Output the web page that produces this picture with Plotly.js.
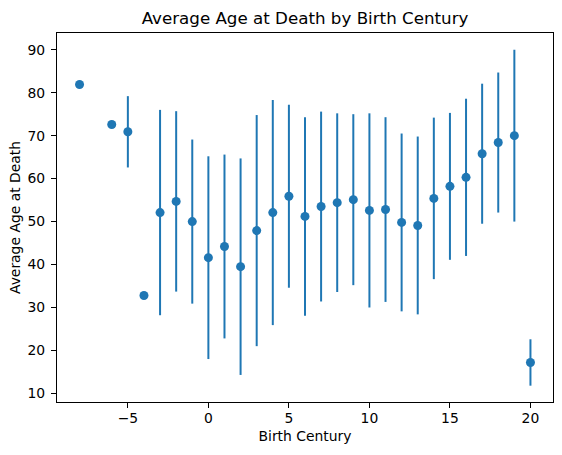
<!DOCTYPE html>
<html>
<head>
<meta charset="utf-8">
<script src="https://cdn.plot.ly/plotly-3.0.1.min.js"></script>
<style>html,body{margin:0;padding:0;background:#fff;}#chart{width:562px;height:455px;}</style>
</head>
<body>
<div id="chart"></div>
<script>
const centuries = [-8, -6, -5, -4, -3, -2, -1, 0, 1, 2, 3, 4, 5, 6, 7, 8, 9, 10, 11, 12, 13, 14, 15, 16, 17, 18, 19, 20];
const avgAge = [81.9, 72.6, 70.9, 32.8, 52.1, 54.7, 50.0, 41.6, 44.2, 39.5, 47.9, 52.1, 55.9, 51.2, 53.5, 54.4, 55.1, 52.6, 52.8, 49.8, 49.1, 55.4, 58.2, 60.3, 65.8, 68.4, 70.0, 17.2];
const stdAge = [0, 0, 8.3, 0, 23.9, 21.0, 19.1, 23.6, 21.4, 25.2, 26.9, 26.2, 21.3, 23.1, 22.1, 20.8, 19.9, 22.6, 21.5, 20.7, 20.7, 18.8, 17.1, 18.3, 16.3, 16.3, 20.0, 5.4];

const font = 'DejaVu Sans, sans-serif';
const trace = {
  x: centuries,
  y: avgAge,
  type: 'scatter',
  mode: 'markers',
  marker: {color: '#1f77b4', size: 9},
  error_y: {type: 'data', array: stdAge, visible: true, color: '#1f77b4', thickness: 2, width: 0},
  hoverinfo: 'x+y'
};

const layout = {
  width: 562, height: 455,
  margin: {l: 57.3, r: 9, t: 32.5, b: 52.7},
  paper_bgcolor: '#fff', plot_bgcolor: '#fff',
  font: {family: font, size: 13.9, color: '#000'},
  showlegend: false,
  title: {text: 'Average Age at Death by Birth Century', font: {family: font, size: 16.7, color: '#000'},
          x: 0.5, xref: 'paper', xanchor: 'center', y: 1, yref: 'paper', yanchor: 'bottom', pad: {b: 9}},
  xaxis: {
    range: [-9.4, 21.4], tickmode: 'array', tickvals: [-5, 0, 5, 10, 15, 20], ticktext: ['−5', '0', '5', '10', '15', '20'],
    showgrid: false, zeroline: false, showline: true, mirror: true, linecolor: '#000', linewidth: 1,
    ticks: 'outside', ticklen: 5, tickwidth: 1, tickcolor: '#000', ticklabelstandoff: -2,
    title: {text: 'Birth Century', font: {family: font, size: 13.9}, standoff: 6}
  },
  yaxis: {
    range: [8.0, 93.9], tickmode: 'array', tickvals: [10, 20, 30, 40, 50, 60, 70, 80, 90],
    showgrid: false, zeroline: false, showline: true, mirror: true, linecolor: '#000', linewidth: 1,
    ticks: 'outside', ticklen: 5, tickwidth: 1, tickcolor: '#000', ticklabelstandoff: 3,
    title: {text: 'Average Age at Death', font: {family: font, size: 13.9}, standoff: 3}
  }
};

Plotly.newPlot('chart', [trace], layout, {displayModeBar: false, staticPlot: true});
</script>
</body>
</html>
